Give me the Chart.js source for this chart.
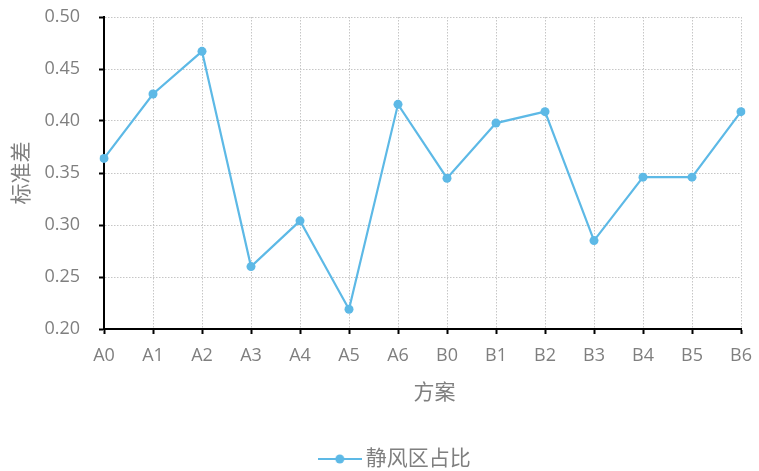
<!DOCTYPE html>
<html>
<head>
<meta charset="utf-8">
<script src="https://cdn.jsdelivr.net/npm/chart.js@4.4.1/dist/chart.umd.min.js"></script>
<style>
  html, body { margin: 0; padding: 0; background: #ffffff; }
  #wrap { width: 759px; height: 471px; }
</style>
</head>
<body>
<div id="wrap"><canvas id="c" width="759" height="471"></canvas></div>
<script>
// Schemes along the x axis
const categories = ['A0','A1','A2','A3','A4','A5','A6','B0','B1','B2','B3','B4','B5','B6'];
// Standard deviation of the calm-wind share for each scheme
const calmShare = [0.364, 0.426, 0.467, 0.260, 0.304, 0.219, 0.416, 0.345, 0.398, 0.409, 0.285, 0.346, 0.346, 0.409];
const seriesName = '静风区占比';
const xTitle = '方案';
const yTitle = '标准差';

const lineColor = '#5DB9E6';
const textColor = '#7f7f7f';
const gridColor = '#c6c6c6';
const fontFamily = '"Open Sans", "Noto Sans CJK SC", sans-serif';

// Legend marker: a short line with a dot in the middle
function legendMarker() {
  const cv = document.createElement('canvas');
  cv.width = 44; cv.height = 10;
  const g = cv.getContext('2d');
  g.strokeStyle = lineColor; g.lineWidth = 2;
  g.beginPath(); g.moveTo(0, 5); g.lineTo(44, 5); g.stroke();
  g.fillStyle = lineColor;
  g.beginPath(); g.arc(22, 5, 4.5, 0, Math.PI * 2); g.fill();
  return cv;
}
const marker = legendMarker();

// Nudges the legend and the x-axis title after layout
const placement = {
  id: 'placement',
  afterLayout(chart) {
    const lg = chart.legend;
    if (lg) { lg.top += 8.5; lg.bottom += 8.5; lg.left += 27; lg.right += 27; }
    const s = chart.scales.x;
    if (s && !s._titleShifted) {
      const draw = s.drawTitle;
      s.drawTitle = function () {
        this.ctx.save();
        this.ctx.translate(12, 0);
        draw.call(this);
        this.ctx.restore();
      };
      s._titleShifted = true;
    }
  }
};

new Chart(document.getElementById('c'), {
  type: 'line',
  data: {
    labels: categories,
    datasets: [{
      label: seriesName,
      data: calmShare,
      borderColor: lineColor,
      backgroundColor: lineColor,
      borderWidth: 2.2,
      pointRadius: 4.5,
      pointBackgroundColor: lineColor,
      pointBorderWidth: 0,
      tension: 0,
      pointStyle: 'circle'
    }]
  },
  plugins: [placement],
  options: {
    responsive: false,
    animation: false,
    devicePixelRatio: 1,
    layout: { padding: { top: 17, right: 18, left: 0, bottom: 0 } },
    plugins: {
      tooltip: { enabled: false },
      legend: {
        position: 'bottom',
        labels: {
          usePointStyle: true,
          pointStyleWidth: 31,
          boxHeight: 10,
          padding: 6,
          color: textColor,
          font: { family: fontFamily, size: 21 },
          generateLabels: () => [{
            text: seriesName,
            pointStyle: marker,
            fillStyle: lineColor,
            strokeStyle: lineColor,
            lineWidth: 0,
            fontColor: textColor,
            datasetIndex: 0
          }]
        }
      }
    },
    scales: {
      x: {
        type: 'category',
        offset: false,
        afterFit: (s) => { s.height = 105; s.paddingRight = 0; },
        border: { color: '#000000', width: 2, dash: [1.5, 1.5] },
        grid: {
          color: gridColor, lineWidth: 1,
          drawTicks: true, tickLength: 5, tickColor: '#000000', tickWidth: 2, tickBorderDash: []
        },
        ticks: { color: textColor, font: { family: fontFamily, size: 18 }, padding: 11, maxRotation: 0, autoSkip: false },
        title: {
          display: true, text: xTitle, color: textColor,
          font: { family: fontFamily, size: 21 },
          padding: { top: 0, bottom: 28 }
        }
      },
      y: {
        min: 0.2,
        max: 0.5,
        afterFit: (s) => { s.width = 104; s.paddingTop = 8; s.paddingBottom = 8; },
        border: { color: '#000000', width: 2, dash: [1.5, 1.5] },
        grid: {
          color: gridColor, lineWidth: 1,
          drawTicks: true, tickLength: 5, tickColor: '#000000', tickWidth: 2, tickBorderDash: []
        },
        ticks: {
          stepSize: 0.05, color: textColor, font: { family: fontFamily, size: 18 }, padding: 19,
          callback: (v) => Number(v).toFixed(2)
        },
        title: {
          display: true, text: yTitle, color: textColor,
          font: { family: fontFamily, size: 21 },
          padding: { top: 9, bottom: 0 }
        }
      }
    }
  }
});
</script>
</body>
</html>
